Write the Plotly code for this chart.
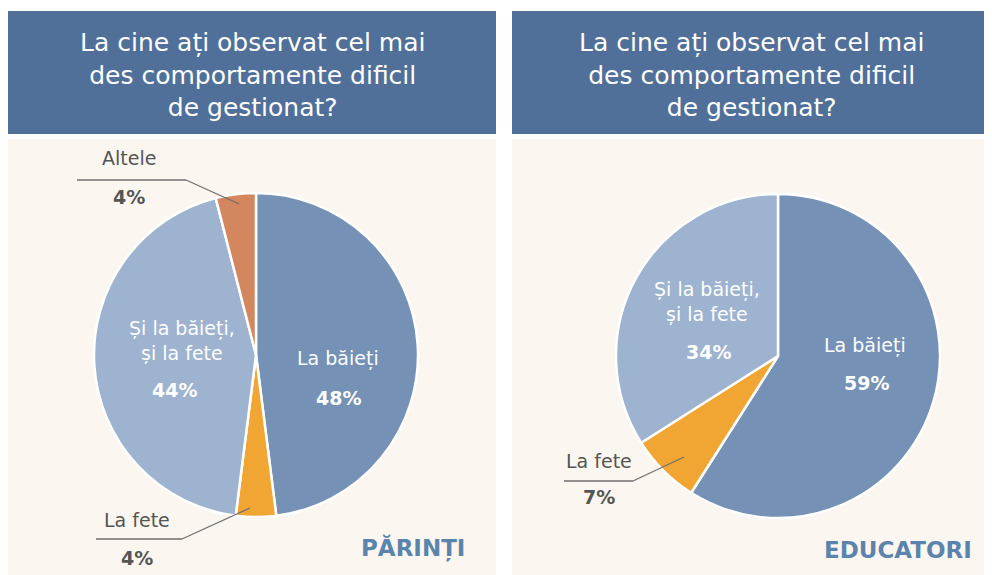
import plotly.graph_objects as go

# page is drawn with an 8px body margin; figure coordinates are shifted accordingly
OFF = 8
W, H = 992 - OFF, 575 - OFF

title_text = "La cine ați observat cel mai<br>des comportamente dificil<br>de gestionat?"
categories_left = ["La băieți", "La fete", "Și la băieți,<br>și la fete", "Altele"]
values_left = [48, 4, 44, 4]
categories_right = ["La băieți", "La fete", "Și la băieți,<br>și la fete"]
values_right = [59, 7, 34]
panel_names = ["PĂRINȚI", "EDUCATORI"]

c_blue = "#7591b6"
c_orange = "#f1a634"
c_light = "#9eb3cf"
c_altele = "#d4875f"
header_col = "#506f99"
cream = "#fbf7f0"
dark = "#555555"
FONT = "DejaVu Sans"
LBL = 19

def px(x):
    return (x - OFF) / W

def py(y):
    return 1 - (y - OFF) / H

def dom(cx, cy, r):
    return dict(x=[px(cx - r), px(cx + r)], y=[py(cy + r), py(cy - r)])

fig = go.Figure()
fig.add_trace(go.Pie(
    labels=categories_left, values=values_left, sort=False, direction="clockwise",
    rotation=0, textinfo="none", hoverinfo="skip", showlegend=False,
    marker=dict(colors=[c_blue, c_orange, c_light, c_altele], line=dict(color="white", width=2.5)),
    domain=dom(256, 355, 162),
))
fig.add_trace(go.Pie(
    labels=categories_right, values=values_right, sort=False, direction="clockwise",
    rotation=0, textinfo="none", hoverinfo="skip", showlegend=False,
    marker=dict(colors=[c_blue, c_orange, c_light], line=dict(color="white", width=2.5)),
    domain=dom(778, 356, 162),
))

shapes = []
for x0, x1 in [(8, 496), (512, 990)]:
    shapes.append(dict(type="rect", xref="paper", yref="paper", x0=px(x0), x1=px(x1),
                       y0=py(134), y1=py(11), fillcolor=header_col, line=dict(width=0), layer="below"))
    shapes.append(dict(type="rect", xref="paper", yref="paper", x0=px(x0), x1=px(x1),
                       y0=py(576), y1=py(139), fillcolor=cream, line=dict(width=0), layer="below"))

def leader(pts):
    for (a, b), (c, d) in zip(pts[:-1], pts[1:]):
        shapes.append(dict(type="line", xref="paper", yref="paper", x0=px(a), y0=py(b),
                           x1=px(c), y1=py(d), line=dict(color="#6f6f6f", width=1.3), layer="above"))

leader([(77, 180), (186, 180), (239, 204)])
leader([(96, 539), (182, 539), (250, 508)])
leader([(564, 481), (633, 481), (684, 457)])

ann = []
def text(x, y, s, size=LBL, color=dark, bold=False, xanchor="center"):
    ann.append(dict(x=px(x), y=py(y), xref="paper", yref="paper", text=(f"<b>{s}</b>" if bold else s),
                    showarrow=False, xanchor=xanchor, yanchor="middle", align="center",
                    font=dict(family=FONT, size=size, color=color)))

# titles
for cx in [252, 751]:
    ann.append(dict(x=px(cx), y=py(75), xref="paper", yref="paper", text=title_text,
                    showarrow=False, xanchor="center", yanchor="middle", align="center",
                    font=dict(family=FONT, size=25, color="white")))

# left labels
text(338, 358, categories_left[0], color="white")
text(338, 398, f"{values_left[0]}%", color="white", bold=True)
text(182, 341, categories_left[2], color="white")
text(174, 390, f"{values_left[2]}%", color="white", bold=True)
text(129, 158, categories_left[3])
text(129, 197, f"{values_left[3]}%", bold=True)
text(137, 520, categories_left[1])
text(137, 558, f"{values_left[1]}%", bold=True)

# right labels
text(865, 345, categories_right[0], color="white")
text(866, 383, f"{values_right[0]}%", color="white", bold=True)
text(707, 302, categories_right[2], color="white")
text(708, 352, f"{values_right[2]}%", color="white", bold=True)
text(599, 461, categories_right[1])
text(599, 497, f"{values_right[1]}%", bold=True)

# panel names
text(467, 548, panel_names[0], size=23, color="#5b84ad", bold=True, xanchor="right")
text(974, 550, panel_names[1], size=23, color="#5b84ad", bold=True, xanchor="right")

fig.update_layout(width=W, height=H, margin=dict(l=0, r=0, t=0, b=0),
                  paper_bgcolor="white", plot_bgcolor="white",
                  shapes=shapes, annotations=ann)
fig.write_html("out.html")
